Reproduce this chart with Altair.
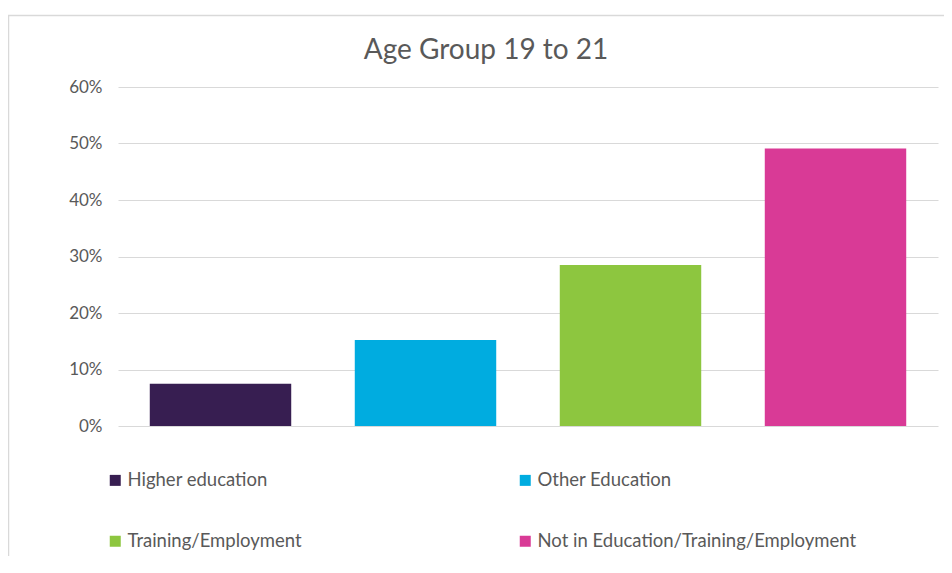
import altair as alt
import pandas as pd

categories = ["Higher education", "Other Education", "Training/Employment",
              "Not in Education/Training/Employment"]
values = [0.075, 0.152, 0.285, 0.491]
colors = ["#371E51", "#00ACE0", "#8DC63F", "#D93A96"]
y_ticks = [0, 0.1, 0.2, 0.3, 0.4, 0.5, 0.6]
title_text = "Age Group 19 to 21"

df = pd.DataFrame({"category": categories, "value": values})

FONT = "Lato"
TXT = "#595959"

bars = alt.Chart(df).mark_bar().encode(
    x=alt.X("category:N", sort=categories, axis=None,
            scale=alt.Scale(paddingInner=0.31, paddingOuter=0.155)),
    y=alt.Y("value:Q", scale=alt.Scale(domain=[0, 0.6]),
            axis=alt.Axis(format=".0%", values=y_ticks, grid=True, ticks=False,
                          domain=False, title=None, labelPadding=16,
                          labelFont=FONT, labelFontSize=17, labelColor=TXT,
                          gridColor="#D9D9D9", gridWidth=1)),
    color=alt.Color("category:N", sort=categories,
                    scale=alt.Scale(domain=categories, range=colors),
                    legend=alt.Legend(orient="none", legendX=-12, legendY=384,
                                      direction="horizontal", columns=2,
                                      columnPadding=214, rowPadding=42,
                                      symbolType="square", symbolSize=121,
                                      symbolStrokeWidth=0, labelOffset=3,
                                      labelFont=FONT, labelFontSize=18.5,
                                      labelColor=TXT, labelLimit=500,
                                      title=None)),
)

border = alt.Chart(alt.Data(values=[{"a": 1}])).mark_rect(
    fill="transparent", stroke="#D9D9D9", strokeWidth=1.5
).encode(x=alt.value(-109.5), x2=alt.value(1000), y=alt.value(-71.5), y2=alt.value(700))

title = alt.Chart(alt.Data(values=[{"t": title_text}])).mark_text(
    font=FONT, fontSize=28, color=TXT, align="center", baseline="middle"
).encode(text="t:N", x=alt.value(368), y=alt.value(-36))

chart = alt.layer(border, bars, title).properties(
    width=820, height=339,
    padding={"left": 110, "top": 79, "right": 6, "bottom": 130},
    autosize="none",
).configure_view(stroke=None)

chart.save("out.html", embed_options={"renderer": "svg", "actions": False})
